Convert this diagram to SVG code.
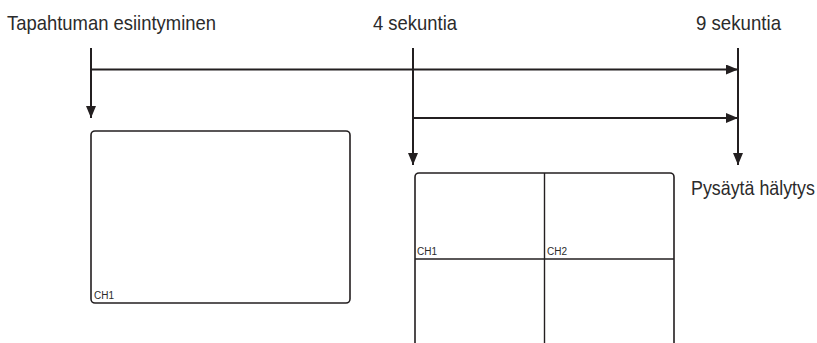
<svg xmlns="http://www.w3.org/2000/svg" width="817" height="343" viewBox="0 0 817 343">
<style>
.ln{stroke:#231f20;stroke-width:2;fill:none}
.box{stroke:#231f20;stroke-width:1.6;fill:#fff}
.div{stroke:#231f20;stroke-width:1.4}
.lbl{font-family:"Liberation Sans",Arial,sans-serif;font-size:21px;fill:#2b2b2b}
.ch{font-family:"Liberation Sans",Arial,sans-serif;font-size:10px;fill:#2b2b2b}
</style>
<defs>
<marker id="ah" viewBox="0 0 12 10" refX="12" refY="5" markerWidth="12" markerHeight="10" markerUnits="userSpaceOnUse" orient="auto">
<path d="M0,0 L12,5 L0,10 Z" fill="#231f20"/>
</marker>
</defs>
<g id="labels">
<text class="lbl" x="7" y="30" textLength="209" lengthAdjust="spacingAndGlyphs">Tapahtuman esiintyminen</text>
<text class="lbl" x="373" y="30" textLength="84" lengthAdjust="spacingAndGlyphs">4 sekuntia</text>
<text class="lbl" x="696" y="30" textLength="85" lengthAdjust="spacingAndGlyphs">9 sekuntia</text>
<text class="lbl" transform="translate(691,195) scale(0.85,1)" x="0" y="0">Pysäytä hälytys</text>
</g>
<g id="connectors">
<line class="ln" x1="91" y1="48" x2="91" y2="118" marker-end="url(#ah)"/>
<line class="ln" x1="91" y1="69.5" x2="738" y2="69.5" marker-end="url(#ah)"/>
<line class="ln" x1="413" y1="48" x2="413" y2="165" marker-end="url(#ah)"/>
<line class="ln" x1="413" y1="118" x2="738" y2="118" marker-end="url(#ah)"/>
<line class="ln" x1="738" y1="48" x2="738" y2="165" marker-end="url(#ah)"/>
</g>
<g id="screen1">
<rect class="box" x="91" y="131" width="259" height="172" rx="4"/>
<text class="ch" x="94" y="299">CH1</text>
</g>
<g id="screen4">
<rect class="box" x="415" y="173" width="259" height="180" rx="4"/>
<line class="div" x1="544.5" y1="173" x2="544.5" y2="343"/>
<line class="div" x1="415" y1="259" x2="674" y2="259"/>
<text class="ch" x="417" y="255">CH1</text>
<text class="ch" x="547" y="255">CH2</text>
</g>
</svg>
